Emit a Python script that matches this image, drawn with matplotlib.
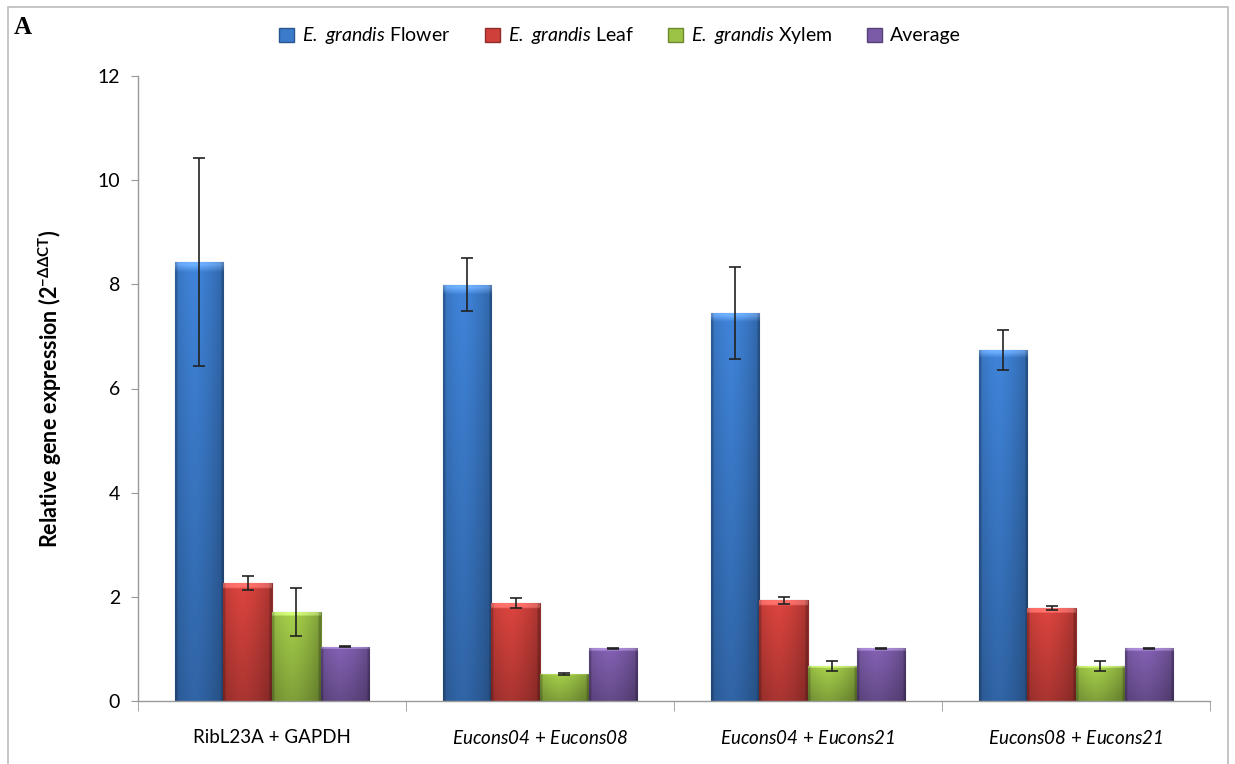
import matplotlib.pyplot as plt
import matplotlib.patches as mpatches
import matplotlib.colors as mcolors
import numpy as np

plt.rcParams['font.family'] = ['Lato', 'DejaVu Sans']
plt.rcParams['mathtext.fontset'] = 'custom'
plt.rcParams['mathtext.rm'] = 'Lato'
plt.rcParams['mathtext.it'] = 'Lato:italic'
plt.rcParams['mathtext.sf'] = 'Lato:italic'   # sf slot used for italic words with digits
plt.rcParams['mathtext.bf'] = 'Lato:bold'

categories = ["RibL23A + GAPDH",
              r"$\mathsf{Eucons04}$ + $\mathsf{Eucons08}$",
              r"$\mathsf{Eucons04}$ + $\mathsf{Eucons21}$",
              r"$\mathsf{Eucons08}$ + $\mathsf{Eucons21}$"]
series = [r"$\mathsf{E.}$ $\mathsf{grandis}$ Flower", r"$\mathsf{E.}$ $\mathsf{grandis}$ Leaf",
          r"$\mathsf{E.}$ $\mathsf{grandis}$ Xylem", "Average"]

flower = [8.43, 7.99, 7.45, 6.74]
leaf = [2.27, 1.88, 1.93, 1.78]
xylem = [1.71, 0.52, 0.67, 0.67]
average = [1.04, 1.01, 1.01, 1.01]

flower_err = [2.0, 0.51, 0.89, 0.38]
leaf_err = [0.13, 0.10, 0.07, 0.04]
xylem_err = [0.46, 0.02, 0.10, 0.10]
average_err = [0.01, 0.01, 0.01, 0.01]

values = [flower, leaf, xylem, average]
errors = [flower_err, leaf_err, xylem_err, average_err]
base_colors = ["#3b7bcb", "#cf403b", "#9cc346", "#7b5ba8"]


def shade(c, f):
    r, g, b = mcolors.to_rgb(c)
    return (r * f, g * f, b * f)


def gradient_bar(ax, patch, color):
    x0, y0 = patch.get_x(), patch.get_y()
    w, h = patch.get_width(), patch.get_height()
    nx, ny = 40, 60
    xs = np.linspace(0, 1, nx)
    ys = np.linspace(0, 1, ny)
    # horizontal shading: darker at the edges, bright band left of centre
    hx = 1.0 - 0.25 * np.abs(xs - 0.4) ** 1.5 * 2
    hx[:2] *= 0.8
    hx[-2:] *= 0.8
    # vertical: lighter at top, darker at bottom
    vy = 0.82 + 0.25 * ys
    img = np.zeros((ny, nx, 3))
    base = np.array(mcolors.to_rgb(color))
    for j in range(ny):
        img[j] = np.clip(base[None, :] * (hx[:, None] * vy[j]), 0, 1)
    # light top bevel
    top = max(1, int(ny * min(0.06, 0.12 / max(h, 0.1))))
    img[-top:] = np.clip(img[-top:] + 0.18, 0, 1)
    im = ax.imshow(img, extent=[x0, x0 + w, y0, y0 + h], origin='lower',
                   aspect='auto', zorder=2, interpolation='bilinear')
    im.set_clip_path(patch)


fig = plt.figure(figsize=(12.35, 7.64), dpi=100)
ax = fig.add_axes([138 / 1235, 1 - 701 / 764, (1210 - 138) / 1235, (701 - 76) / 764])

x = np.arange(len(categories))
width = 1 / 5.5
for i, (vals, errs, col) in enumerate(zip(values, errors, base_colors)):
    pos = x + (i - 1.5) * width
    bars = ax.bar(pos, vals, width, color=col, edgecolor=shade(col, 0.7),
                  linewidth=0.8, label=series[i], zorder=2)
    for b in bars:
        gradient_bar(ax, b, col)
    ax.errorbar(pos, vals, yerr=errs, fmt='none', ecolor='#222222',
                elinewidth=1.2, capsize=4.5, capthick=1.2, zorder=4)

ax.set_xlim(-0.5, len(categories) - 0.5)
ax.set_ylim(0, 12)
ax.set_yticks(np.arange(0, 13, 2))
ax.tick_params(axis='y', labelsize=14, length=5, color='#999999', pad=8)

ax.set_xticks(x)
ax.set_xticklabels(categories, fontsize=13.5)
ax.set_xticks(np.arange(-0.5, len(categories), 1), minor=True)
ax.tick_params(axis='x', which='major', length=0, pad=20)
ax.tick_params(axis='x', which='minor', length=7, color='#999999', direction='out')

for s in ['top', 'right']:
    ax.spines[s].set_visible(False)
for s in ['left', 'bottom']:
    ax.spines[s].set_color('#999999')
    ax.spines[s].set_linewidth(1.0)

ax.set_ylabel(r"Relative gene expression (2$^{\mathbf{-\Delta\Delta CT}}$)",
              fontsize=15.5, fontweight='bold', labelpad=24)

handles = [mpatches.Patch(facecolor=c, edgecolor=shade(c, 0.7)) for c in base_colors]
fig.legend(handles, series, loc='center', bbox_to_anchor=(0.502, 1 - 36 / 764),
           ncol=4, frameon=False, fontsize=14, handlelength=0.75, handleheight=0.75,
           handletextpad=0.4, columnspacing=1.8)

fig.text(14 / 1235, 1 - 28 / 764, "A", fontsize=18, fontweight='bold',
         family='Liberation Serif', va='center', ha='left')

border = mpatches.Rectangle((8 / 1235, -0.01), (1228 - 8) / 1235, 1 - 7 / 764 + 0.01,
                            transform=fig.transFigure, fill=False,
                            edgecolor='#bbbbbb', linewidth=1.2)
fig.patches.append(border)

fig.savefig("out.png", dpi=100, facecolor='white')
